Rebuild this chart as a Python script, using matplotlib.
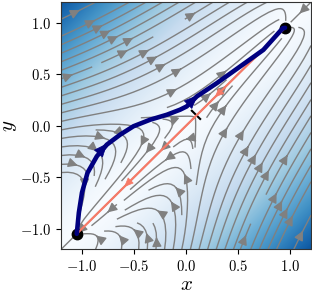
import numpy as np
import matplotlib
matplotlib.use('Agg')
import matplotlib.pyplot as plt
from matplotlib.patches import FancyArrowPatch

plt.rcParams['mathtext.fontset'] = 'cm'

# fixed points on the diagonal (stable, saddle, stable)
diag_roots = [-1.05, 0.1, 0.95]
drift = 1.67     # push along the diagonal away from it
pull = 0.54      # pull back towards the diagonal

start = (-1.05, -1.05)
end = (0.95, 0.95)

# optimisation path
path_x = [-1.05, -1.03, -1.00, -0.947, -0.857, -0.761, -0.633, -0.506,
          -0.345, -0.185, -0.058, 0.006, 0.103, 0.295, 0.518, 0.742, 0.928, 0.95]
path_y = [-1.05, -0.845, -0.65, -0.458, -0.297, -0.184, -0.087, -0.006,
          0.058, 0.106, 0.155, 0.187, 0.284, 0.413, 0.574, 0.736, 0.946, 0.95]
path_arrows = [(-0.79, -0.21), (0.075, 0.26)]

line_arrows = [(0.31, 0.31), (-0.56, -0.56)]

# short mark across the line
mark_x = [0.055, 0.135]
mark_y = [0.145, 0.065]

ticks = [-1.0, -0.5, 0.0, 0.5, 1.0]
tick_labels = [r'$-1.0$', r'$-0.5$', r'$0.0$', r'$0.5$', r'$1.0$']

# vector field in rotated coordinates
g = np.linspace(-1.2, 1.2, 200)
X, Y = np.meshgrid(g, g)
S = (X + Y) / 2
D = (X - Y) / 2
dS = -(S - diag_roots[0]) * (S - diag_roots[1]) * (S - diag_roots[2]) \
    + drift * np.sqrt(D**2 + 1e-4)
dD = -pull * D
U = dS + dD
V = dS - dD

fig = plt.figure(figsize=(3.12, 2.95), dpi=100)
ax = fig.add_axes([0.196, 0.155, 0.801, 0.838])

ax.imshow(np.abs(D)**1.5, extent=[-1.2, 1.2, -1.2, 1.2], origin='lower', cmap='Blues',
          vmin=0, vmax=1.55, interpolation='bilinear', aspect='auto', zorder=0)
ax.streamplot(X, Y, U, V, color='gray', linewidth=1.0, density=1.0,
              arrowsize=1.4, zorder=1)

ax.plot(mark_x, mark_y, color='black', lw=1.5, zorder=2)
ax.plot([start[0], end[0]], [start[1], end[1]], 'o', color='black', ms=7.5, zorder=3)
ax.plot([end[0], start[0]], [end[1], start[1]], color='#f67a68', lw=1.6, zorder=4)
ax.plot(path_x, path_y, color='navy', lw=3.3, solid_capstyle='round', zorder=5)


def arrow_at(xs, ys, p, color, scale):
    # arrow head at point p, pointing along the polyline
    xs = np.asarray(xs)
    ys = np.asarray(ys)
    i = np.argmin(np.hypot(xs - p[0], ys - p[1]))
    i = min(max(i, 1), len(xs) - 1)
    dx, dy = xs[i] - xs[i - 1], ys[i] - ys[i - 1]
    n = np.hypot(dx, dy)
    dx, dy = dx / n * 0.05, dy / n * 0.05
    ax.add_patch(FancyArrowPatch((p[0] - dx, p[1] - dy), (p[0] + dx, p[1] + dy),
                                 arrowstyle='-|>,head_length=0.75,head_width=0.32',
                                 mutation_scale=scale, color=color, lw=0.5,
                                 shrinkA=0, shrinkB=0, zorder=6))


for p in path_arrows:
    arrow_at(path_x, path_y, p, 'navy', 12)
for p in line_arrows:
    arrow_at([end[0], start[0]], [end[1], start[1]], p, '#f67a68', 8)

ax.set_xlim(-1.2, 1.2)
ax.set_ylim(-1.2, 1.2)
ax.set_xticks(ticks, tick_labels, fontsize=10.5)
ax.set_yticks(ticks, tick_labels, fontsize=10.5)
ax.set_xlabel(r'$x$', fontsize=15, labelpad=0)
ax.set_ylabel(r'$y$', fontsize=15, labelpad=1)
for sp in ax.spines.values():
    sp.set_color('#333333')

fig.savefig('out.png', dpi=100)
